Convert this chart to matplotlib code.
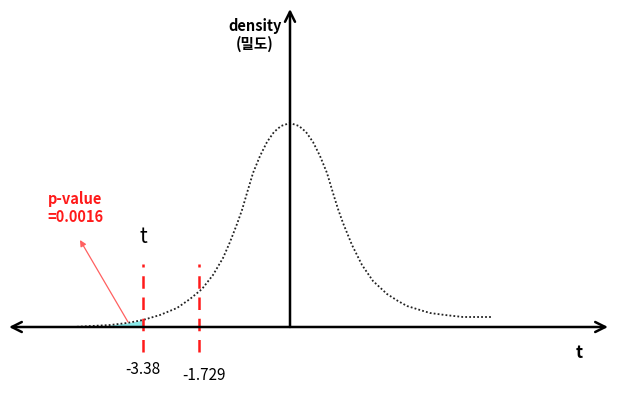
import matplotlib.pyplot as plt
import numpy as np

plt.rcParams["font.family"] = ["Noto Sans CJK KR", "DejaVu Sans"]

# diagram units: origin at the axis crossing, 1 unit ~ 1 px
curve_x = [-217, -180, -163, -147, -130, -113, -100, -88, -77, -67, -60, -53,
           -48, -43, -37, -30, -23, -16, -9, 0, 9, 16, 23, 30, 37, 43, 48,
           53, 62, 72, 83, 97, 108, 117, 130, 140, 155, 173, 203]
curve_y = [0, 2, 4, 7, 12, 19, 28, 38, 52, 69, 85, 103,
           117, 134, 154, 171, 185, 195, 201, 204, 201, 195, 185, 171, 154, 134, 118,
           104, 82, 62, 46, 33, 26, 21, 17, 14, 12, 10, 10]

crit_x = [-147, -91]
crit_labels = ["-3.38", "-1.729"]
label_y = [-42, -49]

tail_from = -180
p_text = "p-value\n=0.0016"

fig = plt.figure(figsize=(6.19, 3.93), dpi=100)
ax = fig.add_axes([0, 0, 1, 1])
ax.set_xlim(-290, 329)
ax.set_ylim(-66, 327)
ax.axis("off")

# axes with arrows
ax.annotate("", xy=(318, 0), xytext=(-281, 0),
            arrowprops=dict(arrowstyle="<->", lw=1.8, color="black",
                            mutation_scale=18, shrinkA=0, shrinkB=0))
ax.annotate("", xy=(0, 318), xytext=(0, 0),
            arrowprops=dict(arrowstyle="->", lw=1.8, color="black",
                            mutation_scale=18, shrinkA=0, shrinkB=0))

# density curve
xs = np.array(curve_x, dtype=float)
ys = np.array(curve_y, dtype=float)
ax.plot(xs, ys, color="#222222", lw=1.3, linestyle=(0, (1, 1.2)),
        solid_joinstyle="round")

# shaded tail
mask = (xs >= tail_from) & (xs <= crit_x[0])
ax.fill_between(xs[mask], 0, ys[mask], color="#7DE8E8", alpha=0.9, lw=0)

# critical lines
for cx, lab, ly in zip(crit_x, crit_labels, label_y):
    ax.plot([cx, cx], [-25, 63], color="#FF1A1A", lw=1.8, linestyle=(0, (5, 3.5)))
    ax.text(cx + (0 if lab == "-3.38" else 5), ly, lab, ha="center",
            va="center", fontsize=11)

ax.text(crit_x[0], 90, "t", ha="center", va="center", fontsize=15)

# p-value annotation
ax.annotate("", xy=(-210, 87), xytext=(-162, 5),
            arrowprops=dict(arrowstyle="-|>", lw=0.9, color="#FF6060",
                            mutation_scale=9, shrinkA=0, shrinkB=0))
ax.text(-215, 119, p_text, ha="center", va="center", color="#FF1A1A",
        fontsize=10.5, fontweight="bold", linespacing=1.2)

ax.text(-35, 292, "density\n(밀도)", ha="center", va="center",
        fontsize=10.5, fontweight="bold", linespacing=1.15)
ax.text(289, -26, "t", ha="center", va="center", fontsize=12,
        fontweight="bold")

fig.savefig("out.png", dpi=100)
